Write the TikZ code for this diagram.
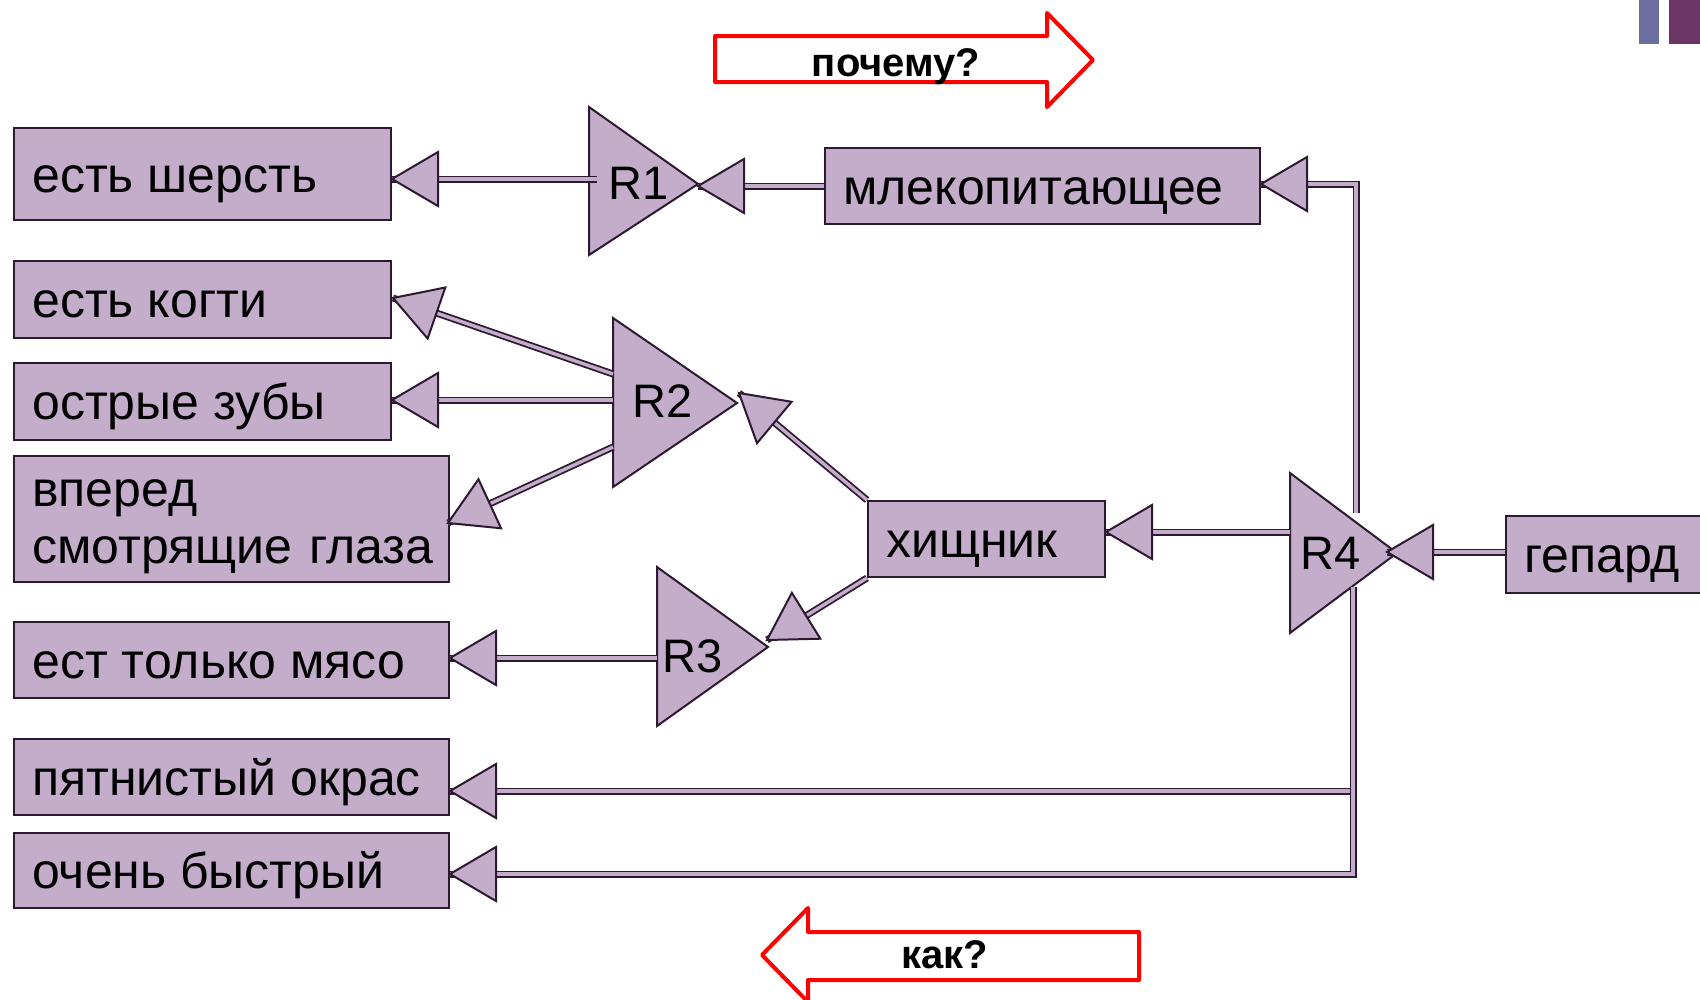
\documentclass[tikz,border=0pt]{standalone}
\usepackage{fontspec}
\setmainfont{Liberation Sans}
\usetikzlibrary{calc}
\definecolor{lil}{RGB}{195,173,203}
\definecolor{dk}{RGB}{45,26,48}
\definecolor{barA}{RGB}{107,110,158}
\definecolor{barB}{RGB}{107,53,102}

% open triangular arrow head: tip, point it comes from
\newcommand\headto[2]{%
  \coordinate (hb) at ($(#1)!46pt!(#2)$);
  \draw[tri] (#1) -- ($(hb)!27pt!90:(#1)$) -- ($(hb)!27pt!-90:(#1)$) -- cycle;}
% straight connector with head
\newcommand\linkto[2]{%
  \draw[conn] (#1) -- (#2);
  \headto{#2}{#1}}
% fact box: name, left, top, width, height, text
\newcommand\fact[6]{%
  \node[box, minimum width=#4pt, minimum height=#5pt] (#1) at (#2,#3) {};
  \node[txt] (#1-t) at ($(#1.west)+(19,18)$) {#6};}

\begin{document}
\begin{tikzpicture}[x=1pt,y=-1pt,
  box/.style={draw=dk, fill=lil, line width=2pt, anchor=north west, inner sep=0pt},
  txt/.style={anchor=base west, inner sep=0pt, font=\fontsize{50}{57}\selectfont},
  tri/.style={draw=dk, fill=lil, line width=2pt, line join=miter},
  conn/.style={draw=dk, line width=1.8pt, double=lil, double distance=3.4pt},
  rlab/.style={font=\fontsize{47}{47}\selectfont, inner sep=0pt},
  redarrow/.style={draw=red, line width=4pt, fill=white, line join=round},
  rtxt/.style={font=\bfseries\fontsize{40}{40}\selectfont, inner sep=0pt, anchor=base}]

\useasboundingbox (0,0) rectangle (1700,999);

% corner bars
\fill[barA] (1639,0) rectangle (1659,44);
\fill[barB] (1669,0) rectangle (1700,44);

% direction arrows
\draw[redarrow] (715,36) -- (1047,36) -- (1047,13) -- (1093,60) -- (1047,107)
  -- (1047,82) -- (715,82) -- cycle;
\node[rtxt] (why) at (896,76) {почему?};
\draw[redarrow] (1139,932) -- (808,932) -- (808,908) -- (762,955) -- (808,1002)
  -- (808,980) -- (1139,980) -- cycle;
\node[rtxt] (how) at (945,968) {как?};

% fact boxes
\fact{sher}{13}{127}{377}{92}{есть шерсть}
\fact{kogti}{13}{260}{377}{77}{есть когти}
\fact{zuby}{13}{362}{377}{77}{острые зубы}
\node[box, minimum width=435pt, minimum height=126pt] (glaza) at (13,455) {};
\node[txt, align=left, text width=430pt] (glaza-t) at ($(glaza.west)+(19,-13)$) {вперед\\смотрящие глаза};
\fact{myaso}{13}{621}{435}{76}{ест только мясо}
\fact{pyat}{13}{738}{435}{76}{пятнистый окрас}
\fact{bystr}{13}{832}{435}{75}{очень быстрый}
\fact{mlek}{824}{147}{435}{76}{млекопитающее}
\fact{hish}{867}{500}{237}{76}{хищник}
\fact{gep}{1505}{515}{215}{77}{гепард}

% rule triangles
\draw[tri] (589,107) -- (698,184) -- (589,255) -- cycle;
\node[rlab] (R1) at (639,183) {R1};
\draw[tri] (613,318) -- (737,403) -- (613,487) -- cycle;
\node[rlab] (R2) at (663,401) {R2};
\draw[tri] (657,567) -- (768,647) -- (657,726) -- cycle;
\node[rlab] (R3) at (693,656) {R3};
\draw[tri] (1290,473) -- (1397,553) -- (1290,633) -- cycle;
\node[rlab] (R4) at (1331,553) {R4};

% attachment points on the triangles
\coordinate (R1w) at (597,179);
\coordinate (R1a) at (698,186);
\coordinate (R2a) at (613,374);
\coordinate (R2b) at (613,400);
\coordinate (R2c) at (613,447);
\coordinate (R2t) at (739,393);
\coordinate (R3w) at (657,658);
\coordinate (R3t) at (767,640);
\coordinate (R4w) at (1290,532);
\coordinate (R4t) at (1387,552);
\coordinate (R4n) at (1356,513);
\coordinate (R4s) at (1353,587);

% end points on the boxes
\coordinate (e1) at (R1w -| sher.east);
\coordinate (s2) at (R1a -| mlek.west);
\coordinate (e3) at (393,298);
\coordinate (e4) at (R2b -| zuby.east);
\coordinate (e5) at (448,523);
\coordinate (e7) at (R3w -| myaso.east);
\coordinate (e9) at (R4w -| hish.east);
\coordinate (s10) at (R4t -| gep.west);
\coordinate (c11) at (1356,184);
\coordinate (e11) at (c11 -| mlek.east);
\coordinate (c12) at (1353,791);
\coordinate (e12) at (c12 -| pyat.east);
\coordinate (c13) at (1353,874);
\coordinate (e13) at (c13 -| bystr.east);

% connectors
\linkto{R1w}{e1}
\linkto{s2}{R1a}
\linkto{R2a}{e3}
\linkto{R2b}{e4}
\linkto{R2c}{e5}
\linkto{hish.north west}{R2t}
\linkto{R3w}{e7}
\linkto{hish.south west}{R3t}
\linkto{R4w}{e9}
\linkto{s10}{R4t}

\draw[conn] (R4n) -- (c11) -- (e11);
\headto{e11}{c11}
\draw[conn] (R4s) -- (c12) -- (e12);
\headto{e12}{c12}
\draw[conn] (R4s) -- (c13) -- (e13);
\headto{e13}{c13}

\end{tikzpicture}
\end{document}
